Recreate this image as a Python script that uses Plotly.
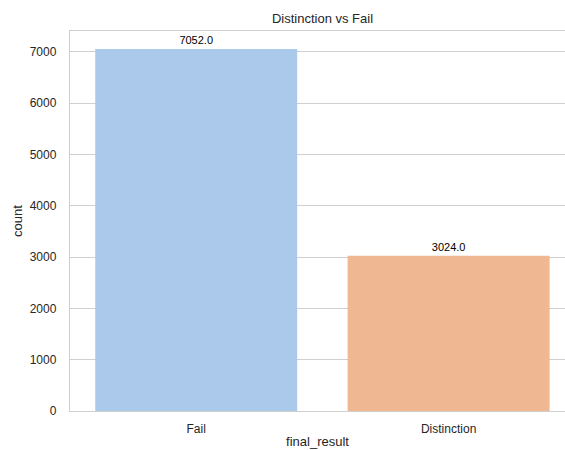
import plotly.graph_objects as go

categories = ["Fail", "Distinction"]
counts = [7052, 3024]
colors = ["#abc9ea", "#efb792"]
y_ticks = [0, 1000, 2000, 3000, 4000, 5000, 6000, 7000]

W, H = 565, 450
L, T, B = 70, 31, 39
FONT = "Liberation Sans, Arial, sans-serif"
GRID = "#cfcfcf"

fig = go.Figure(
    go.Bar(
        x=categories,
        y=counts,
        marker=dict(color=colors, line=dict(width=0)),
        width=0.8,
        text=[f"{v:.1f}" for v in counts],
        textposition="outside",
        textfont=dict(size=11, color="#000000", family=FONT),
        cliponaxis=False,
        hoverinfo="skip",
    )
)

fig.update_layout(
    width=W,
    height=H,
    margin=dict(l=L, r=0, t=T, b=B, pad=0, autoexpand=False),
    paper_bgcolor="white",
    plot_bgcolor="white",
    font=dict(family=FONT, color="#262626"),
    showlegend=False,
    bargap=0.2,
    title=dict(
        text="Distinction vs Fail",
        font=dict(size=13, color="#262626"),
        x=(L + L + 505) / 2 / W,
        xanchor="center",
        y=1 - 18 / H,
        yanchor="middle",
        yref="container",
        xref="container",
    ),
)

fig.update_xaxes(
    type="category",
    range=[-0.5, 1.461],
    showgrid=False,
    showline=True,
    linecolor=GRID,
    linewidth=1.2,
    mirror=True,
    ticks="outside",
    ticklen=6,
    tickcolor="rgba(0,0,0,0)",
    tickfont=dict(size=12, color="#262626"),
    title=dict(text="final_result", font=dict(size=13, color="#262626"), standoff=2),
    automargin=False,
    fixedrange=True,
)

fig.update_yaxes(
    range=[0, 7052 * 1.05],
    tickvals=y_ticks,
    showgrid=True,
    gridcolor=GRID,
    gridwidth=1,
    zeroline=False,
    showline=True,
    linecolor=GRID,
    linewidth=1.2,
    ticks="outside",
    ticklen=10,
    tickcolor="rgba(0,0,0,0)",
    tickfont=dict(size=12, color="#262626"),
    title=dict(text="count", font=dict(size=13, color="#262626"), standoff=4),
    automargin=False,
    fixedrange=True,
)

fig.write_html(
    "out.html",
    config={"displayModeBar": False, "staticPlot": True},
    post_script="document.body.style.margin='0';document.body.style.overflow='hidden';",
)
